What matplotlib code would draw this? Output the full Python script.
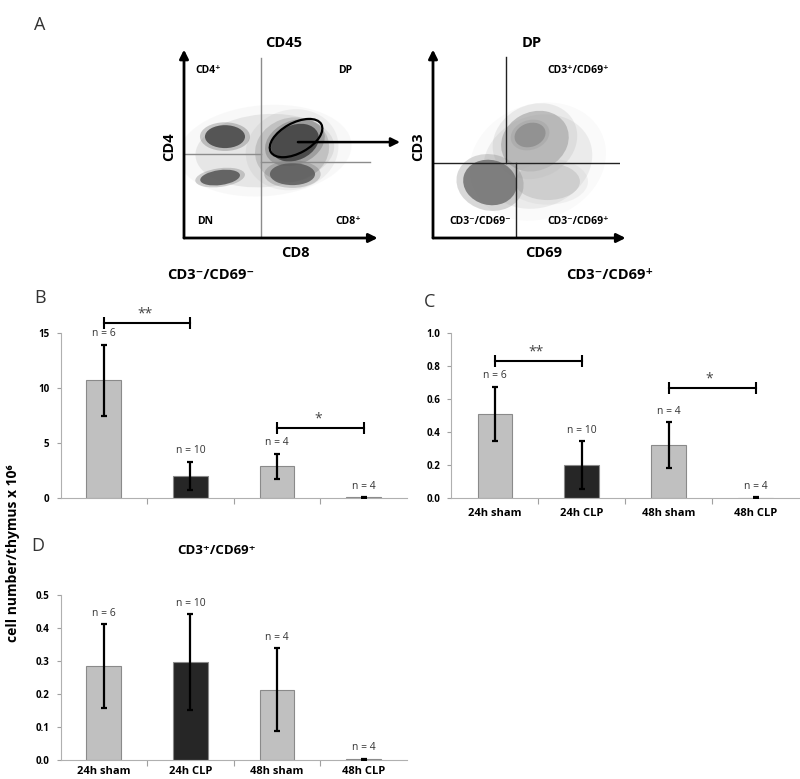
import matplotlib
matplotlib.use('Agg')
import matplotlib.pyplot as plt
from matplotlib.patches import Ellipse
import numpy as np

plt.rcParams['font.family'] = ['Open Sans', 'DejaVu Sans']

W, H = 800, 779

# ---- bar chart data ----
groups = ['24h sham', '24h CLP', '48h sham', '48h CLP']
n_labels = ['n = 6', 'n = 10', 'n = 4', 'n = 4']
bar_colors = ['#c0c0c0', '#262626', '#c0c0c0', '#c0c0c0']

b_mean = [10.7, 2.0, 2.9, 0.05]
b_err = [3.25, 1.3, 1.13, 0.05]
b_sig = [(0, 1, 15.9, '**'), (2, 3, 6.35, '*')]

c_mean = [0.51, 0.20, 0.32, 0.003]
c_err = [0.165, 0.145, 0.14, 0.003]
c_sig = [(0, 1, 0.83, '**'), (2, 3, 0.665, '*')]

d_mean = [0.285, 0.297, 0.213, 0.002]
d_err = [0.127, 0.145, 0.125, 0.002]

# ---- flow cytometry clusters (channel units 0-1000) ----
# cx, cy, width, height, angle, colour, alpha
cd45_clusters = [
    (430, 480, 740, 400, 5, '#cccccc', 0.4),
    (575, 485, 400, 350, 20, '#9a9a9a', 0.4),
    (218, 557, 213, 126, 0, '#4a4a4a', 0.9),
    (192, 332, 213, 82, 8, '#5a5a5a', 0.9),
    (590, 524, 266, 192, 25, '#474747', 0.95),
    (577, 351, 240, 121, 0, '#5a5a5a', 0.85),
]
dp_clusters = [
    (560, 420, 600, 500, 25, '#d6d6d6', 0.4),
    (545, 532, 375, 319, 30, '#a0a0a0', 0.6),
    (519, 566, 170, 130, 20, '#808080', 0.6),
    (612, 310, 347, 203, 0, '#bdbdbd', 0.55),
    (305, 305, 290, 247, -15, '#7a7a7a', 0.95),
]


def px_axes(left, top, right, bottom):
    return fig.add_axes([left / W, 1 - bottom / H, (right - left) / W, (bottom - top) / H])


fig = plt.figure(figsize=(8, 7.79), dpi=100)


def draw_clusters(ax, clusters):
    for cx, cy, w, h, ang, col, a in clusters:
        ax.add_patch(Ellipse((cx, cy), w * 1.25, h * 1.25, angle=ang, color=col, alpha=a * 0.3, lw=0))
        ax.add_patch(Ellipse((cx, cy), w, h, angle=ang, color=col, alpha=a, lw=0))


def flow_frame(ax, title, xlab, ylab):
    ax.set_xlim(0, 1000)
    ax.set_ylim(0, 1000)
    ax.axis('off')
    arrow = dict(arrowstyle='-|>', lw=2, color='black', mutation_scale=13, shrinkA=0, shrinkB=0)
    ax.annotate('', xy=(0, 1.035), xytext=(0, 0), xycoords='axes fraction', arrowprops=arrow)
    ax.annotate('', xy=(1.03, 0), xytext=(0, 0), xycoords='axes fraction', arrowprops=arrow)
    ax.text(0.53, 1.07, title, transform=ax.transAxes, ha='center', va='center',
            fontsize=10.5, fontweight='bold')
    ax.text(0.59, -0.08, xlab, transform=ax.transAxes, ha='center', va='center',
            fontsize=10.5, fontweight='bold')
    ax.text(-0.08, 0.5, ylab, transform=ax.transAxes, ha='center', va='center',
            rotation=90, fontsize=10.5, fontweight='bold')


# ---- panel A left: CD45 ----
ax1 = px_axes(184, 56, 372, 238)
flow_frame(ax1, 'CD45', 'CD8', 'CD4')
draw_clusters(ax1, cd45_clusters)
ax1.plot([410, 410], [0, 990], color='#8c8c8c', lw=1)
ax1.plot([0, 410], [462, 462], color='#8c8c8c', lw=1)
ax1.plot([410, 990], [418, 418], color='#8c8c8c', lw=1)
ax1.add_patch(Ellipse((596, 549), 309, 165, angle=30, fill=False, ec='black', lw=1.6))
ax1.annotate('', xy=(1149, 527), xytext=(606, 527), xycoords='data',
             arrowprops=dict(arrowstyle='-|>', lw=1.8, color='black', mutation_scale=13,
                             shrinkA=0, shrinkB=0), annotation_clip=False)
for x, y, s in [(128, 918, 'CD4⁺'), (856, 918, 'DP'), (112, 88, 'DN'), (872, 88, 'CD8⁺')]:
    ax1.text(x, y, s, ha='center', va='center', fontsize=7.5, fontweight='bold')
ax1.text(144, -203, 'CD3⁻/CD69⁻', ha='center', va='center', fontsize=10.5, fontweight='bold')

# ---- panel A right: DP ----
ax2 = px_axes(433, 56, 620, 238)
flow_frame(ax2, 'DP', 'CD69', 'CD3')
draw_clusters(ax2, dp_clusters)
ax2.plot([0, 1000], [412, 412], color='#222222', lw=1)
ax2.plot([390, 390], [412, 995], color='#222222', lw=1)
ax2.plot([444, 444], [0, 412], color='#222222', lw=1)
for x, y, s in [(775, 918, 'CD3⁺/CD69⁺'), (251, 88, 'CD3⁻/CD69⁻'), (775, 88, 'CD3⁻/CD69⁺')]:
    ax2.text(x, y, s, ha='center', va='center', fontsize=7.5, fontweight='bold')
ax2.text(947, -203, 'CD3⁻/CD69⁺', ha='center', va='center', fontsize=10.5, fontweight='bold')


# ---- bar panels ----
def bar_panel(ax, mean, err, ymax, ticks, fmt, sig, xlabels, lab_pad=16):
    x = np.arange(len(groups))
    ax.bar(x, mean, width=0.4, color=bar_colors, edgecolor='#8a8a8a', linewidth=0.8, zorder=2)
    ax.errorbar(x, mean, yerr=err, fmt='none', ecolor='black', elinewidth=1.6,
                capsize=2.5, capthick=1.6, zorder=3)
    off = 0.065 * ymax
    for xi, m, e, lab in zip(x, mean, err, n_labels):
        ax.text(xi, m + e + off, lab, ha='center', va='center', fontsize=7.5, color='#333333')
    for i0, i1, y, s in sig:
        ax.plot([i0, i1], [y, y], color='black', lw=1.5, marker='|', markersize=9,
                markeredgewidth=1.5, clip_on=False)
        ax.text((i0 + i1) / 2 - 0.03, y + 0.055 * ymax, s, ha='center', va='center',
                fontsize=10, color='#444444', clip_on=False)
    ax.set_xlim(-0.5, len(groups) - 0.5)
    ax.set_ylim(0, ymax)
    ax.set_yticks(ticks, labels=[fmt.format(t) for t in ticks], fontsize=7, fontweight='bold')
    ax.set_xticks([])
    ax.set_xticks(x[:-1] + 0.5, minor=True)
    ax.tick_params(axis='x', which='minor', length=4, color='#a0a0a0', width=0.8)
    ax.tick_params(axis='y', length=3, color='#a0a0a0', width=0.8, pad=5)
    if xlabels:
        for xi, g in zip(x, groups):
            ax.annotate(g, (xi, 0), xytext=(0, -lab_pad * 0.72), textcoords='offset points',
                        ha='center', va='center', fontsize=8, fontweight='bold')
    for sp in ['top', 'right']:
        ax.spines[sp].set_visible(False)
    for sp in ['left', 'bottom']:
        ax.spines[sp].set_color('#b0b0b0')
        ax.spines[sp].set_linewidth(0.8)


axB = px_axes(60.5, 333, 407, 498)
bar_panel(axB, b_mean, b_err, 15, [0, 5, 10, 15], '{:.0f}', b_sig, False)

axC = px_axes(451.5, 333, 799, 498)
bar_panel(axC, c_mean, c_err, 1.0, [0, 0.2, 0.4, 0.6, 0.8, 1.0], '{:.1f}', c_sig, True)

axD = px_axes(60.5, 595, 407, 760)
bar_panel(axD, d_mean, d_err, 0.5, [0, 0.1, 0.2, 0.3, 0.4, 0.5], '{:.1f}', [], True, lab_pad=12)
axD.text(0.45, 1.27, 'CD3⁺/CD69⁺', transform=axD.transAxes, ha='center', va='center',
         fontsize=9.5, fontweight='bold')

# panel letters and shared label
for x, y, s in [(40, 25, 'A'), (40, 298, 'B'), (430, 302, 'C'), (38, 546, 'D')]:
    fig.text(x / W, 1 - y / H, s, ha='center', va='center', fontsize=13, color='#333333')
fig.text(13 / W, 1 - 553 / H, 'cell number/thymus x 10⁶', rotation=90, ha='center',
         va='center', fontsize=10, fontweight='bold')

fig.savefig('out.png', dpi=100, facecolor='white')
